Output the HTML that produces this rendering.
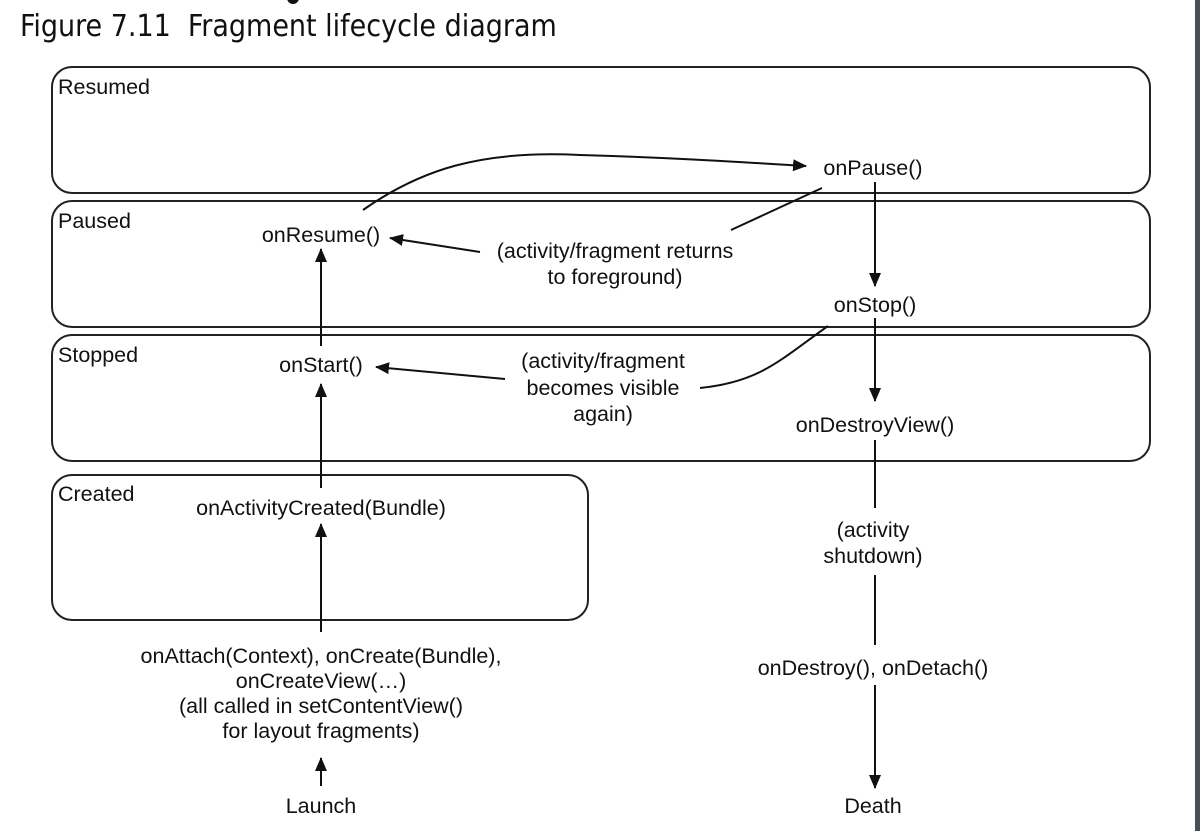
<!DOCTYPE html>
<html><head><style>
html,body{margin:0;padding:0;background:#fff;}
svg{display:block;}
text{font-family:"Liberation Sans",sans-serif;font-size:21.5px;fill:#111;}
</style></head><body>
<svg width="1200" height="831" viewBox="0 0 1200 831">
<defs><marker id="a" markerWidth="14" markerHeight="12" refX="13" refY="6" orient="auto" markerUnits="userSpaceOnUse"><path d="M0,0 L14,6 L0,12 Z" fill="#111"/></marker></defs>
<rect x="1195" y="0" width="5" height="831" fill="#4a4f55"/>
<text x="20" y="36" style="font-family:'DejaVu Sans Condensed','DejaVu Sans',sans-serif;font-size:30px">Figure 7.11&#160; Fragment lifecycle diagram</text>
<circle cx="293" cy="-2" r="6" fill="#111"/>
<g fill="none" stroke="#222" stroke-width="2">
<rect x="52" y="67" width="1098" height="126" rx="20"/>
<rect x="52" y="201" width="1098" height="126" rx="20"/>
<rect x="52" y="335" width="1098" height="126" rx="20"/>
<rect x="52" y="475" width="536" height="145" rx="20"/>
</g>
<text x="58" y="94">Resumed</text>
<text x="58" y="228">Paused</text>
<text x="58" y="362">Stopped</text>
<text x="58" y="501">Created</text>
<g stroke="#111" stroke-width="2" fill="none">
<line x1="321" y1="786" x2="321" y2="758" marker-end="url(#a)"/>
<line x1="321" y1="632" x2="321" y2="524" marker-end="url(#a)"/>
<line x1="321" y1="488" x2="321" y2="384" marker-end="url(#a)"/>
<line x1="321" y1="346" x2="321" y2="249" marker-end="url(#a)"/>
<line x1="875" y1="182" x2="875" y2="286" marker-end="url(#a)"/>
<line x1="875" y1="318" x2="875" y2="401" marker-end="url(#a)"/>
<line x1="875" y1="440" x2="875" y2="508"/>
<line x1="875" y1="575" x2="875" y2="645"/>
<line x1="875" y1="685" x2="875" y2="788" marker-end="url(#a)"/>
<path d="M363 210 C 420 170, 480 150, 580 155 C 680 158, 740 162, 806 166" marker-end="url(#a)"/>
<line x1="480" y1="252" x2="390" y2="238" marker-end="url(#a)"/>
<line x1="822" y1="188" x2="731" y2="230"/>
<line x1="505" y1="379" x2="376" y2="367" marker-end="url(#a)"/>
<path d="M700 388 C 760 382, 780 360, 828 326"/>
</g>
<g text-anchor="middle">
<text x="873" y="175">onPause()</text>
<text x="321" y="242">onResume()</text>
<text x="615" y="258">(activity/fragment returns</text>
<text x="615" y="284">to foreground)</text>
<text x="875" y="312">onStop()</text>
<text x="321" y="372">onStart()</text>
<text x="603" y="368">(activity/fragment</text>
<text x="603" y="395">becomes visible</text>
<text x="603" y="421">again)</text>
<text x="875" y="432">onDestroyView()</text>
<text x="321" y="515">onActivityCreated(Bundle)</text>
<text x="873" y="537">(activity</text>
<text x="873" y="563">shutdown)</text>
<text x="321" y="663">onAttach(Context), onCreate(Bundle),</text>
<text x="321" y="688">onCreateView(…)</text>
<text x="321" y="713">(all called in setContentView()</text>
<text x="321" y="738">for layout fragments)</text>
<text x="873" y="675">onDestroy(), onDetach()</text>
<text x="321" y="813">Launch</text>
<text x="873" y="813">Death</text>
</g>
</svg>
</body></html>
